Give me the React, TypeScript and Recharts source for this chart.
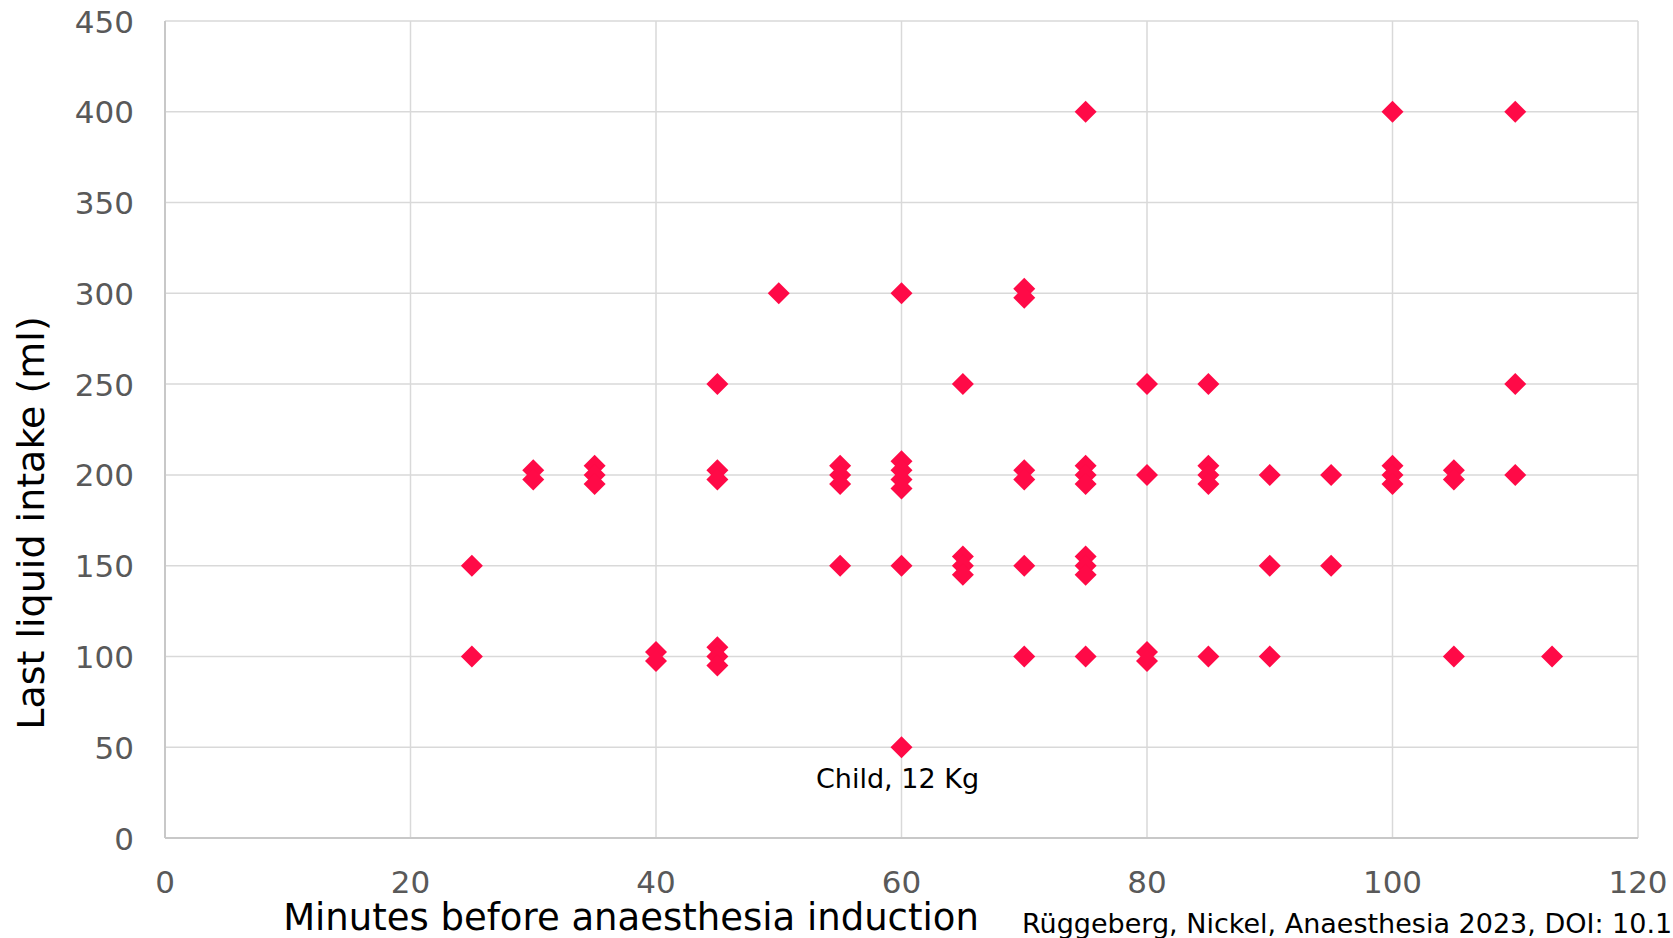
import React from 'react';
import { ScatterChart, Scatter, XAxis, YAxis, CartesianGrid } from 'recharts';

// ---- data ----
const minutes = [
  25, 25,
  30, 30,
  35, 35, 35,
  40, 40,
  45, 45, 45, 45, 45, 45,
  50,
  55, 55, 55, 55,
  60, 60, 60, 60, 60, 60,
  65, 65, 65, 65,
  70, 70, 70, 70, 70, 70,
  75, 75, 75, 75, 75, 75, 75, 75,
  80, 80, 80, 80,
  85, 85, 85, 85, 85,
  90, 90, 90,
  95, 95,
  100, 100, 100, 100,
  105, 105, 105,
  110, 110, 110,
  113,
];
const intake = [
  150, 100,
  202.5, 197.5,
  205, 200, 195,
  102.5, 97.5,
  250, 202.5, 197.5, 105, 100, 95,
  300,
  205, 200, 195, 150,
  300, 207.5, 202.5, 197.5, 192.5, 150,
  250, 155, 150, 145,
  302.5, 297.5, 202.5, 197.5, 150, 100,
  400, 205, 200, 195, 155, 150, 145, 100,
  250, 200, 102.5, 97.5,
  250, 205, 200, 195, 100,
  200, 150, 100,
  200, 150,
  400, 205, 200, 195,
  202.5, 197.5, 100,
  400, 250, 200,
  100,
];
const childMinutes = [60];
const childIntake = [50];
const childLabels = ['Child, 12 Kg'];

const xTicks = [0, 20, 40, 60, 80, 100, 120];
const yTicks = [0, 50, 100, 150, 200, 250, 300, 350, 400, 450];

const xTitle = 'Minutes before anaesthesia induction';
const yTitle = 'Last liquid intake (ml)';
const citation = 'Rüggeberg, Nickel, Anaesthesia 2023, DOI: 10.1111/anae';

const points = minutes.map((m, i) => ({ x: m, y: intake[i] }));
const childPoints = childMinutes.map((m, i) => ({ x: m, y: childIntake[i], label: childLabels[i] }));

// ---- styles ----
const MARKER = '#FF0A47';
const GRID = '#d9d9d9';
const AXIS = '#c8c8c8';
const TICK = '#595959';
const FONT = '"DejaVu Sans", Verdana, sans-serif';
const R = 11;

const diamondPoints = (cx: number, cy: number) =>
  `${cx},${cy - R} ${cx + R},${cy} ${cx},${cy + R} ${cx - R},${cy}`;

const Diamond = (props: any) => {
  const { cx, cy } = props;
  if (cx == null || cy == null) return null;
  return <polygon points={diamondPoints(cx, cy)} fill={MARKER} />;
};

const ChildDiamond = (props: any) => {
  const { cx, cy, payload } = props;
  if (cx == null || cy == null) return null;
  return (
    <g>
      <polygon points={diamondPoints(cx, cy)} fill={MARKER} />
      <text x={cx - 4} y={cy + 41} textAnchor="middle" fontFamily={FONT} fontSize={27} fill="#000">
        {payload?.label}
      </text>
    </g>
  );
};

const YTick = (props: any) => {
  const { x, y, payload } = props;
  return (
    <text x={x} y={y} dy={11.5} textAnchor="end" fontFamily={FONT} fontSize={31} fill={TICK}>
      {payload.value}
    </text>
  );
};

const XTick = (props: any) => {
  const { x, y, payload } = props;
  return (
    <text x={x} y={y + 55} textAnchor="middle" fontFamily={FONT} fontSize={31} fill={TICK}>
      {payload.value}
    </text>
  );
};

const XTitle = () => (
  <g>
    <text x={631} y={930} textAnchor="middle" fontFamily={FONT} fontSize={37} fill="#000">
      {xTitle}
    </text>
    <text x={1022} y={933} textAnchor="start" fontFamily={FONT} fontSize={27} fill="#000">
      {citation}
    </text>
  </g>
);

const YTitle = () => (
  <text
    x={44}
    y={523}
    transform="rotate(-90, 44, 523)"
    textAnchor="middle"
    fontFamily={FONT}
    fontSize={38}
    fill="#000"
  >
    {yTitle}
  </text>
);

export default function App() {
  return (
    <div
      style={{
        position: 'absolute',
        left: 0,
        top: 0,
        width: 1673,
        height: 938,
        overflow: 'hidden',
        background: '#fff',
      }}
    >
      <ScatterChart width={1673} height={938} margin={{ top: 21, right: 35, bottom: 0, left: 0 }}>
        <CartesianGrid stroke={GRID} strokeWidth={1.5} />
        <XAxis
          type="number"
          dataKey="x"
          domain={[0, 120]}
          ticks={xTicks}
          height={100}
          tickSize={0}
          tickMargin={0}
          tickLine={false}
          axisLine={{ stroke: AXIS, strokeWidth: 2 }}
          tick={<XTick />}
          interval={0}
          allowDataOverflow
          label={<XTitle />}
        />
        <YAxis
          type="number"
          dataKey="y"
          domain={[0, 450]}
          ticks={yTicks}
          width={165}
          tickSize={0}
          tickMargin={31}
          tickLine={false}
          axisLine={{ stroke: AXIS, strokeWidth: 2 }}
          tick={<YTick />}
          interval={0}
          allowDataOverflow
          label={<YTitle />}
        />
        <Scatter data={points} shape={<Diamond />} isAnimationActive={false} />
        <Scatter data={childPoints} shape={<ChildDiamond />} isAnimationActive={false} />
      </ScatterChart>
    </div>
  );
}
